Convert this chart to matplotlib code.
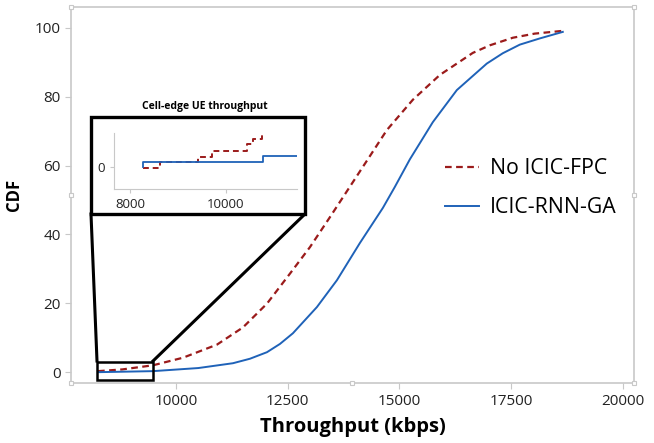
import numpy as np
import matplotlib.pyplot as plt

# main CDF curves (throughput kbps, CDF %)
fpc_x = [8255, 8800, 9485, 10157, 10917, 11499, 12036, 12550, 12998, 13445,
         13960, 14273, 14720, 15302, 15906, 16644, 17025, 17539, 18031, 18658]
fpc_y = [0.3, 0.8, 2.0, 4.2, 8.0, 13.0, 19.9, 28.6, 36.3, 45.0,
         55.2, 61.4, 70.3, 79.1, 86.3, 92.7, 94.9, 97.1, 98.3, 99.1]

rnn_x = [8255, 9485, 10500, 11275, 11655, 12036, 12327, 12617, 13154, 13602,
         14116, 14631, 14899, 15235, 15749, 16286, 16957, 17315, 17696, 18143, 18658]
rnn_y = [0.0, 0.3, 1.2, 2.6, 3.9, 5.8, 8.2, 11.3, 18.9, 26.7,
         37.5, 47.7, 53.8, 61.8, 72.6, 81.9, 89.6, 92.6, 95.1, 96.9, 98.8]

# inset (cell-edge zoom), step curves
in_fpc_x = [8278, 8625, 9424, 9701, 10431, 10569, 10743]
in_fpc_y = [-0.2, 1.0, 2.0, 3.1, 4.5, 5.6, 6.3]
in_rnn_x = [8278, 8278, 10778, 11472]
in_rnn_y = [0.0, 1.0, 2.1, 2.1]

red = '#9b1b1b'
blue = '#1f62b8'
grey = '#c8c8c8'

plt.rcParams['font.family'] = ['Open Sans', 'DejaVu Sans']

fig = plt.figure(figsize=(6.54, 4.43), dpi=100)
ax = fig.add_axes([0.1086, 0.135, 0.8604, 0.849])

ax.plot(fpc_x, fpc_y, color=red, lw=1.6, ls=(0, (3, 2)), label='No ICIC-FPC')
ax.plot(rnn_x, rnn_y, color=blue, lw=1.4, label='ICIC-RNN-GA')

ax.set_xlim(7650, 20246)
ax.set_ylim(-3.2, 106)
ax.set_xticks([10000, 12500, 15000, 17500, 20000])
ax.set_yticks([0, 20, 40, 60, 80, 100])
for s in ax.spines.values():
    s.set_color(grey)
    s.set_linewidth(1.2)
ax.tick_params(colors=grey, labelcolor='#222222', labelsize=11, length=4)

# little handles on the frame
hx = [0, 1, 0, 1, 0.5, 0, 1]
hy = [0, 0, 1, 1, 0, 0.5, 0.5]
ax.plot(hx, hy, ls='none', marker='s', ms=3.5, mfc='white', mec=grey,
        mew=0.8, transform=ax.transAxes, clip_on=False, zorder=5)

ax.set_xlabel('Throughput (kbps)', fontsize=14.5, fontweight='bold', labelpad=6)
ax.set_ylabel('CDF', fontsize=12, fontweight='bold', labelpad=8)

# zoom box and connector lines (figure pixel coords)
W, H = 654, 443
def fx(px):
    return px / W
def fy(py):
    return 1 - py / H

ax.legend(loc='center left', bbox_to_anchor=(fx(426), fy(188)),
          bbox_transform=fig.transFigure, frameon=False,
          fontsize=15.3, handlelength=1.6, handletextpad=0.5, labelspacing=0.85)

ax.add_patch(plt.Rectangle((8233, -2.3), 9485 - 8233, 5.2, fill=False,
                           ec='black', lw=1.8, zorder=6))
fig.add_artist(plt.Line2D([fx(97), fx(91)], [fy(361), fy(214)], color='black', lw=2.2))
fig.add_artist(plt.Line2D([fx(153), fx(305)], [fy(361), fy(214)], color='black', lw=2.2))

# inset frame
fig.add_artist(plt.Rectangle((fx(91), fy(214)), fx(305) - fx(91), fy(117) - fy(214),
                             fill=False, ec='black', lw=2.4, transform=fig.transFigure))
fig.text(fx(205), fy(107), 'Cell-edge UE throughput', ha='center', va='center',
         fontsize=7.5, fontweight='bold')

ins = fig.add_axes([fx(114), fy(189), fx(297) - fx(114), fy(133) - fy(189)])
ins.step(in_fpc_x, in_fpc_y, where='post', color=red, lw=1.4, ls=(0, (3, 2)))
ins.step(in_rnn_x, in_rnn_y, where='post', color=blue, lw=1.3)
ins.set_xlim(7667, 11479)
ins.set_ylim(-4.5, 6.7)
ins.set_xticks([8000, 10000])
ins.set_yticks([0])
ins.spines['top'].set_visible(False)
ins.spines['right'].set_visible(False)
ins.spines['left'].set_color(grey)
ins.spines['bottom'].set_color(grey)
ins.tick_params(colors=grey, labelcolor='#222222', labelsize=9.5, length=3)

fig.savefig('out.png', dpi=100)
